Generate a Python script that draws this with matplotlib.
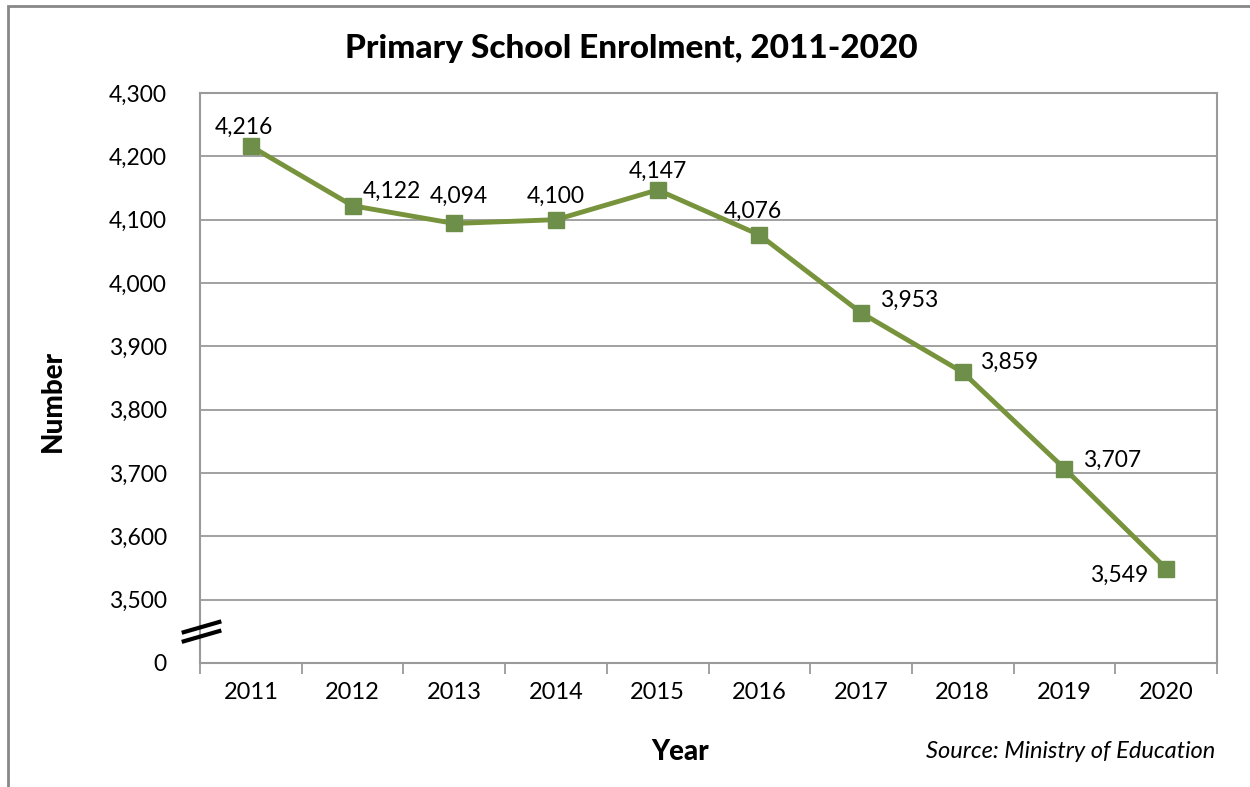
import matplotlib
matplotlib.use('Agg')
from matplotlib import pyplot as plt
from matplotlib.patches import Rectangle
import numpy as np

plt.rcParams['font.family'] = ['Lato', 'DejaVu Sans']

years = ['2011', '2012', '2013', '2014', '2015', '2016', '2017', '2018', '2019', '2020']
enrolment = [4216, 4122, 4094, 4100, 4147, 4076, 3953, 3859, 3707, 3549]

# label offsets (pixels) and alignment, picked to sit like the original
label_pos = [(-7, 19, 'center'), (10, 14, 'left'), (5, 27, 'center'), (0, 23, 'center'),
             (0, 19, 'center'), (-6, 24, 'center'), (19, 12, 'left'), (17, 10, 'left'),
             (19, 8, 'left'), (-18, -7, 'right')]

green = '#77933C'
grid_col = '#9a9a9a'

fig = plt.figure(figsize=(12.5, 7.87), dpi=100)
ax = fig.add_axes([0.16, 0.1576, 0.8136, 0.7242])

x = np.arange(len(years))
ax.plot(x, enrolment, color=green, lw=3.5, marker='s', ms=11,
        markerfacecolor='#6e8f4a', markeredgecolor='#6e8f4a', zorder=3)

for xi, v, (dx, dy, ha) in zip(x, enrolment, label_pos):
    ax.annotate(f'{v:,}', (xi, v), xytext=(dx, dy), textcoords='offset pixels',
                ha=ha, va='center', fontsize=16.5)

# y axis: bottom tick stands for 0 (broken axis)
yticks = np.arange(3400, 4301, 100)
ylabels = ['0'] + [f'{t:,}' for t in yticks[1:]]
ax.set_ylim(3400, 4300)
ax.set_yticks(yticks)
ax.set_yticklabels(ylabels, fontsize=16.5)
ax.tick_params(axis='y', length=0, pad=24)
for t in yticks[1:-1]:
    ax.axhline(t, color=grid_col, lw=1.3, zorder=1)

ax.set_xlim(-0.5, len(years) - 0.5)
ax.set_xticks(x)
ax.set_xticklabels(years, fontsize=17)
ax.set_xticks(np.arange(-0.5, len(years)), minor=True)
ax.tick_params(axis='x', which='major', length=0, pad=14)
ax.tick_params(axis='x', which='minor', length=8, width=1.3, color=grid_col)

for s in ax.spines.values():
    s.set_color(grid_col)
    s.set_linewidth(1.5)

# axis break marks
for y0 in (0.054, 0.038):
    ax.plot([-0.016, 0.019], [y0, y0 + 0.018], transform=ax.transAxes,
            color='black', lw=3, clip_on=False, zorder=5)

fig.text(0.505, 0.938, 'Primary School Enrolment, 2011-2020', ha='center', va='center',
         fontsize=24, fontweight='black')
fig.text(0.042, 0.49, 'Number', rotation=90, ha='center', va='center',
         fontsize=20, fontweight='black')
fig.text(0.544, 0.045, 'Year', ha='center', va='center', fontsize=20, fontweight='black')
fig.text(0.972, 0.045, 'Source: Ministry of Education', ha='right', va='center',
         fontsize=17, style='italic')

# outer chart frame (cut off at right and bottom)
fig.patches.append(Rectangle((8 / 1250, -0.05), 1.2, 1 - 6 / 787 + 0.05,
                             transform=fig.transFigure, fill=False,
                             edgecolor='#888888', lw=2))

plt.savefig('out.png', dpi=100)
